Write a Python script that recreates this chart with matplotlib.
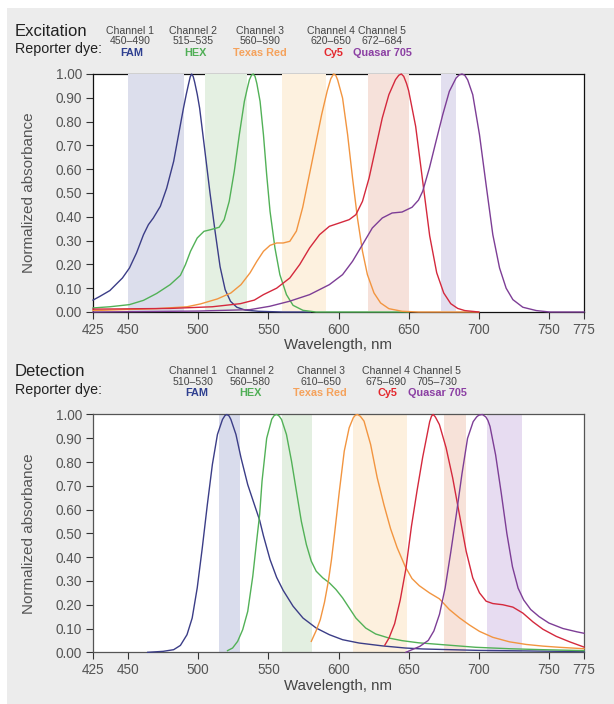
import matplotlib
matplotlib.use("Agg")
import matplotlib.pyplot as plt
from matplotlib.patches import Rectangle

plt.rcParams['font.family'] = ['Liberation Sans', 'DejaVu Sans']

# ---- data ----
dyes = ["FAM", "HEX", "Texas Red", "Cy5", "Quasar 705"]
curve_colors = ["#3b3d87", "#52b157", "#f29540", "#d4293d", "#7d3e96"]
dye_text_colors = ["#2e3f90", "#4fae55", "#f5a25c", "#e4262c", "#8b3fa3"]

ex_channels = ["Channel 1", "Channel 2", "Channel 3", "Channel 4", "Channel 5"]
ex_ranges = ["450–490", "515–535", "560–590", "620–650", "672–684"]
ex_bands = [(450, 490), (505, 535), (560, 591), (621, 650), (673, 684)]
ex_band_colors = ["#dcdeec", "#e4f0e2", "#fdf1df", "#f6e1da", "#e2dfef"]

det_ranges = ["510–530", "560–580", "610–650", "675–690", "705–730"]
det_bands = [(515, 530), (560, 581), (610, 649), (675, 691), (706, 731)]
det_band_colors = ["#d9dcec", "#e3efe1", "#fdf0de", "#f7e2d9", "#e7dcf1"]

xticks = [425, 450, 500, 550, 600, 650, 700, 750, 775]
yticks = [0.0, 0.1, 0.2, 0.3, 0.4, 0.5, 0.6, 0.7, 0.8, 0.9, 1.0]

# excitation spectra
ex_fam_nm = [425, 430, 437, 446, 451, 456, 461, 464.5, 468, 473, 477.5, 482.5, 486, 489.5, 491.5, 493,
             494.3, 495.3, 496.4, 497.5, 499.3, 501, 504.8, 508.4, 512, 515.6, 519.2, 523, 527.5,
             533.5, 543, 560, 580]
ex_fam_val = [0.05, 0.066, 0.09, 0.143, 0.185, 0.248, 0.325, 0.367, 0.395, 0.444, 0.52, 0.633, 0.745,
              0.857, 0.915, 0.955, 0.988, 1.0, 0.99, 0.965, 0.915, 0.857, 0.675, 0.50, 0.34, 0.19,
              0.094, 0.045, 0.02, 0.008, 0.003, 0.0, 0.0]

ex_hex_nm = [425, 437, 451, 461, 470.4, 480, 487.3, 490.9, 494.5, 499.3, 504.1, 508.9, 514.9, 518.5,
             522.1, 525.7, 529.3, 532.9, 535, 536.5, 538, 539.2, 540.5, 541.8, 544.1, 546.5, 548.8,
             551.2, 554.7, 558.2, 562.9, 567.6, 574.7, 584, 650]
ex_hex_val = [0.017, 0.022, 0.031, 0.049, 0.078, 0.115, 0.154, 0.199, 0.255, 0.311, 0.339, 0.346,
              0.356, 0.388, 0.465, 0.591, 0.745, 0.885, 0.94, 0.976, 0.995, 1.0, 0.99, 0.96, 0.885,
              0.745, 0.577, 0.423, 0.269, 0.157, 0.073, 0.028, 0.007, 0.0, 0.0]

ex_txr_nm = [425, 470, 492, 501.7, 513.7, 523.3, 530.5, 537, 541.8, 546.5, 551.2, 555.9, 560.6, 565.3,
             570, 574.5, 579, 583.5, 588, 592, 594.5, 596.5, 598, 599.4, 602.9, 606.5, 610, 613.5,
             617.1, 620.6, 625.3, 630, 635.9, 645.3, 657, 700]
ex_txr_val = [0.006, 0.014, 0.022, 0.034, 0.055, 0.08, 0.115, 0.165, 0.213, 0.255, 0.28, 0.29, 0.29,
              0.297, 0.34, 0.44, 0.57, 0.70, 0.83, 0.93, 0.98, 1.0, 0.995, 0.975, 0.899, 0.745, 0.563,
              0.395, 0.255, 0.157, 0.08, 0.038, 0.014, 0.003, 0.0, 0.0]

ex_cy5_nm = [425, 480, 510, 530, 540, 546.5, 555.9, 565.3, 572.4, 579.4, 586.5, 593.5, 600.6, 607.6,
             612.4, 617.1, 621.8, 626.5, 631.2, 635.9, 640.6, 643, 644.8, 646.5, 648.5, 650, 655, 660,
             665, 670, 675, 680, 685, 690, 700]
ex_cy5_val = [0.012, 0.015, 0.022, 0.035, 0.05, 0.073, 0.10, 0.143, 0.20, 0.269, 0.325, 0.36, 0.374,
              0.388, 0.409, 0.465, 0.563, 0.689, 0.815, 0.913, 0.976, 0.995, 1.0, 0.99, 0.96, 0.93,
              0.78, 0.55, 0.32, 0.165, 0.08, 0.035, 0.015, 0.006, 0.0]

ex_q705_nm = [425, 500, 537, 551, 565, 579.4, 593.5, 602.9, 610, 617.1, 624.1, 631.2, 638.2, 645.3,
              652.4, 657, 660, 664.8, 669.5, 674.3, 679, 683.8, 686, 688, 690, 692.1, 695.7, 700.5,
              705.2, 710, 714.8, 719.5, 724.3, 731.4, 741, 750.5, 775]
ex_q705_val = [0.0, 0.004, 0.01, 0.024, 0.045, 0.073, 0.115, 0.157, 0.213, 0.283, 0.353, 0.395, 0.416,
               0.42, 0.44, 0.47, 0.507, 0.605, 0.717, 0.829, 0.927, 0.983, 0.996, 1.0, 0.995, 0.975,
               0.913, 0.745, 0.535, 0.325, 0.185, 0.10, 0.052, 0.02, 0.006, 0.0, 0.0]

# detection spectra
det_fam_nm = [464, 475, 482.5, 487.3, 492, 495.7, 499.3, 502.9, 506.5, 510.1, 513.7, 517.3, 519,
              520.4, 522, 523.3, 526.9, 530.5, 535.3, 540.1, 543.8, 546.5, 551.2, 555.9, 560.6, 567.6,
              574.7, 584.1, 593.5, 602.9, 614.7, 631.2, 647.6, 660, 700, 775]
det_fam_val = [0.0, 0.004, 0.011, 0.029, 0.074, 0.144, 0.271, 0.439, 0.621, 0.79, 0.916, 0.979, 0.995,
               1.0, 0.994, 0.979, 0.916, 0.818, 0.705, 0.62, 0.555, 0.49, 0.39, 0.315, 0.26, 0.194,
               0.144, 0.102, 0.074, 0.053, 0.039, 0.027, 0.018, 0.014, 0.008, 0.003]

det_hex_nm = [520.9, 524.5, 528.1, 531.7, 535.3, 538.9, 541.5, 543.8, 545.5, 548.8, 552.4, 554.2,
              555.9, 557.6, 559.4, 562.9, 566.5, 570, 573.5, 577.1, 580.6, 584.1, 588.8, 593.5, 598.2,
              602.9, 607.6, 612.4, 619.4, 626.5, 635.9, 645.3, 657, 674.3, 698, 721.9, 745.7, 775]
det_hex_val = [0.007, 0.018, 0.046, 0.095, 0.172, 0.32, 0.46, 0.58, 0.72, 0.90, 0.98, 0.996, 1.0,
               0.994, 0.979, 0.916, 0.804, 0.677, 0.551, 0.453, 0.383, 0.341, 0.313, 0.292, 0.264,
               0.229, 0.187, 0.144, 0.102, 0.077, 0.06, 0.049, 0.04, 0.032, 0.021, 0.015, 0.011, 0.007]

det_txr_nm = [580.6, 584, 587, 590, 592.8, 595, 597.1, 600.6, 604.1, 607.6, 610.5, 612, 613.5, 615.5,
              618.2, 622.9, 627.6, 632.4, 637.1, 641.8, 647.6, 652.4, 657.6, 664.8, 671.9, 679, 686.2,
              693.3, 700.5, 710, 721.9, 733.8, 745.7, 757.6, 775]
det_txr_val = [0.046, 0.09, 0.137, 0.21, 0.30, 0.39, 0.494, 0.677, 0.846, 0.944, 0.986, 0.997, 1.0,
               0.993, 0.972, 0.874, 0.734, 0.62, 0.52, 0.44, 0.36, 0.31, 0.28, 0.25, 0.225, 0.18,
               0.145, 0.115, 0.088, 0.063, 0.044, 0.033, 0.026, 0.021, 0.015]

det_cy5_nm = [633, 636, 640, 644, 648, 652, 656, 660, 663, 665, 666.3, 667.5, 669, 671.9, 676.7,
              681.4, 686.2, 691, 695.7, 700.5, 705.2, 710, 717.1, 724.3, 731.4, 738.6, 745.7, 755.2,
              764.8, 775]
det_cy5_val = [0.03, 0.06, 0.12, 0.22, 0.35, 0.53, 0.68, 0.82, 0.91, 0.97, 0.993, 1.0, 0.99, 0.958,
               0.86, 0.733, 0.579, 0.425, 0.313, 0.25, 0.215, 0.205, 0.2, 0.19, 0.165, 0.128, 0.097,
               0.067, 0.044, 0.022]

det_q705_nm = [648, 652, 658, 664, 668, 672, 676, 680, 684, 688, 692, 696, 698.5, 700, 702.5, 705,
               706.5, 708, 712, 716, 720, 724, 728, 732, 737, 743, 750, 760, 770, 775]
det_q705_val = [0.0, 0.01, 0.025, 0.05, 0.09, 0.16, 0.27, 0.42, 0.58, 0.75, 0.9, 0.97, 0.99, 0.997,
                1.0, 0.99, 0.975, 0.95, 0.83, 0.67, 0.5, 0.36, 0.27, 0.22, 0.18, 0.15, 0.123, 0.1,
                0.086, 0.08]

ex_curves = [(ex_fam_nm, ex_fam_val), (ex_hex_nm, ex_hex_val), (ex_txr_nm, ex_txr_val),
             (ex_cy5_nm, ex_cy5_val), (ex_q705_nm, ex_q705_val)]
det_curves = [(det_fam_nm, det_fam_val), (det_hex_nm, det_hex_val), (det_txr_nm, det_txr_val),
              (det_cy5_nm, det_cy5_val), (det_q705_nm, det_q705_val)]

W, H = 614, 704
fig = plt.figure(figsize=(W / 100, H / 100), dpi=100)
fig.patch.set_facecolor("white")
fig.patches.append(Rectangle((7 / W, 0), 1, 1 - 8 / H, transform=fig.transFigure,
                             facecolor="#ececec", edgecolor="none", zorder=-10))


def px(x, y):
    return x / W, 1 - y / H


def setup_axes(ax, spine_color):
    ax.set_xlim(425, 775)
    ax.set_ylim(0, 1)
    ax.set_xticks(xticks)
    ax.set_yticks(yticks)
    ax.set_yticklabels(["%.2f" % v for v in yticks])
    ax.tick_params(direction="out", length=5, width=0.8, color="#333333",
                   labelsize=9.8, labelcolor="#555555", pad=3)
    for s in ax.spines.values():
        s.set_color(spine_color)
        s.set_linewidth(0.9)
    ax.set_xlabel("Wavelength, nm", fontsize=10.8, color="#444444", labelpad=1)
    ax.set_ylabel("Normalized absorbance", fontsize=11, color="#555555", labelpad=14)


# ---- excitation ----
ax1 = fig.add_axes([93 / W, 1 - 312 / H, 491 / W, 238 / H])
ax1.set_facecolor("white")
setup_axes(ax1, "#111111")
for (lo, hi), c in zip(ex_bands, ex_band_colors):
    ax1.axvspan(lo, hi, ymin=0.004, ymax=1.0, color=c, lw=0, zorder=3)
for (nm, val), c in zip(ex_curves, curve_colors):
    ax1.plot(nm, val, color=c, lw=1.0, zorder=4, clip_on=False)

# ---- detection ----
ax2 = fig.add_axes([93 / W, 1 - 652.3 / H, 491 / W, 237.8 / H])
ax2.set_facecolor("white")
setup_axes(ax2, "#555555")
for (lo, hi), c in zip(det_bands, det_band_colors):
    ax2.axvspan(lo, hi, color=c, lw=0, zorder=1)
for (nm, val), c in zip(det_curves, curve_colors):
    ax2.plot(nm, val, color=c, lw=1.0, zorder=4, clip_on=False)

# ---- header texts ----
fig.text(*px(15, 31), "Excitation", fontsize=12, color="#222222", va="center", ha="left")
fig.text(*px(15, 49), "Reporter dye:", fontsize=10.3, color="#222222", va="center", ha="left")
fig.text(*px(15, 372), "Detection", fontsize=12, color="#222222", va="center", ha="left")
fig.text(*px(15, 390), "Reporter dye:", fontsize=10.3, color="#222222", va="center", ha="left")

ex_centers = [130, 193, 260, 331, 382]
ex_dye_centers = [132, 195, 260, 333, 382]
det_centers = [193, 250, 321, 386, 437]
det_dye_centers = [197, 250, 320, 387, 437]

for i in range(5):
    fig.text(*px(ex_centers[i], 31), ex_channels[i], fontsize=7.6, color="#444444",
             ha="center", va="center")
    fig.text(*px(ex_centers[i], 41.5), ex_ranges[i], fontsize=7.6, color="#444444",
             ha="center", va="center")
    fig.text(*px(ex_dye_centers[i], 52.5), dyes[i], fontsize=7.8, color=dye_text_colors[i],
             ha="center", va="center", fontweight="bold")
    fig.text(*px(det_centers[i], 371), ex_channels[i], fontsize=7.6, color="#444444",
             ha="center", va="center")
    fig.text(*px(det_centers[i], 382), det_ranges[i], fontsize=7.6, color="#444444",
             ha="center", va="center")
    fig.text(*px(det_dye_centers[i], 393), dyes[i], fontsize=7.8, color=dye_text_colors[i],
             ha="center", va="center", fontweight="bold")

fig.savefig("out.png", dpi=100)
